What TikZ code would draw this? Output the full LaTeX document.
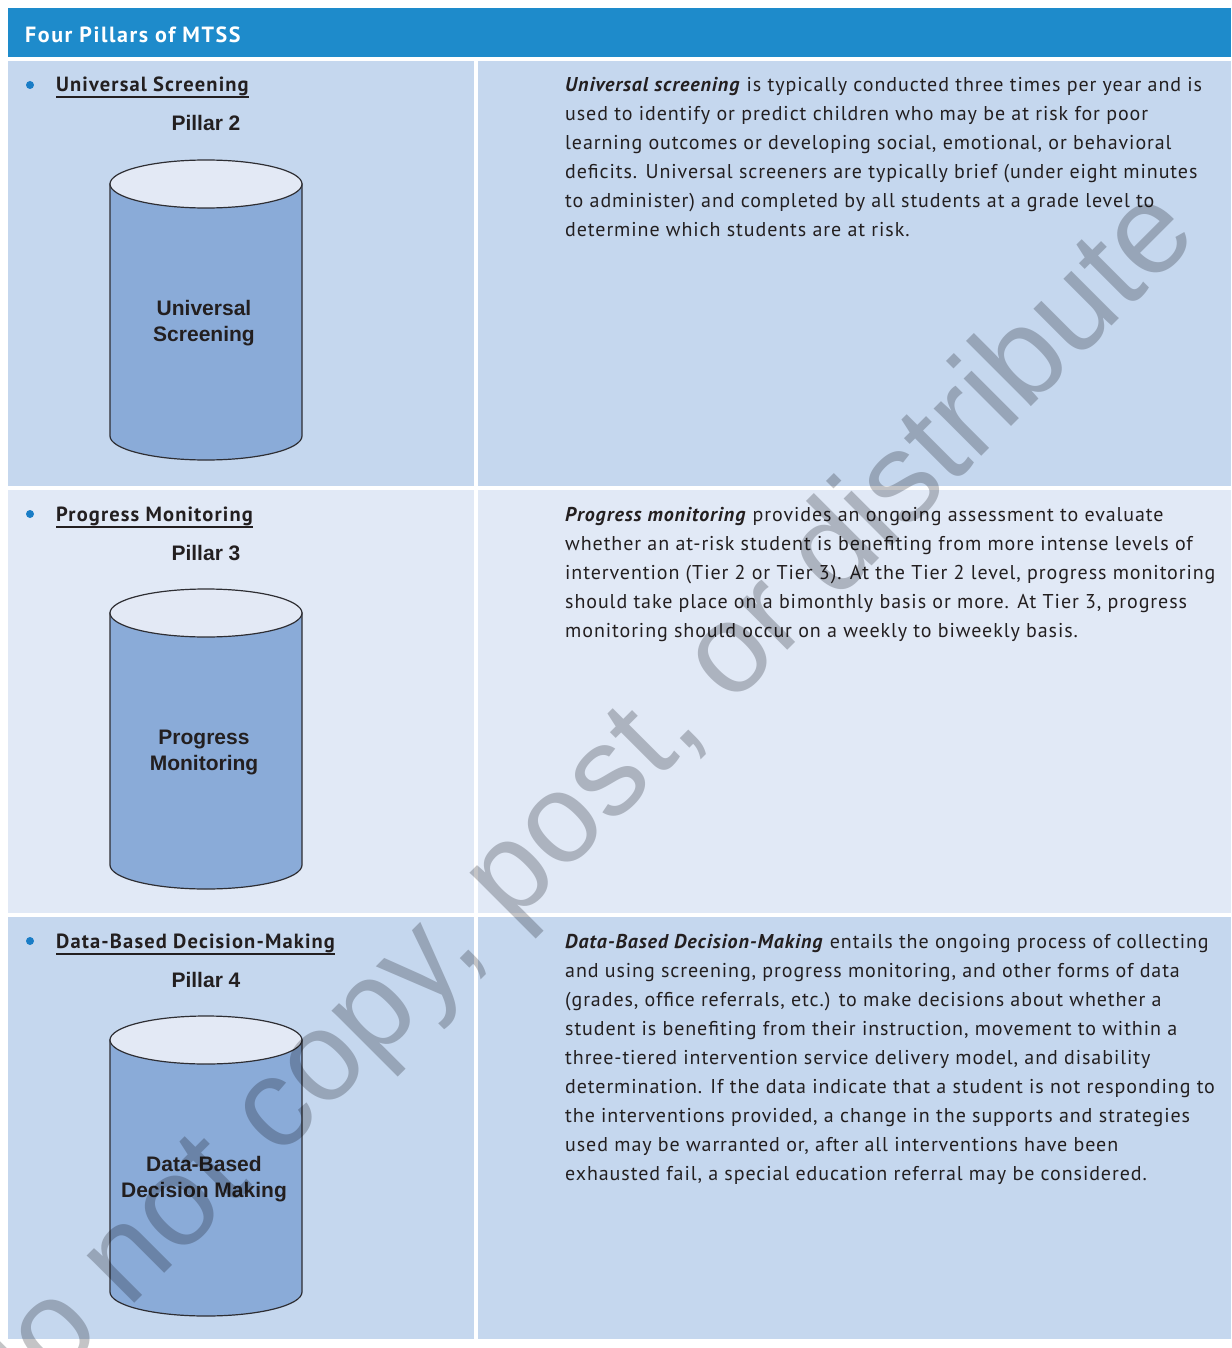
\documentclass[tikz,border=0pt]{standalone}
\usepackage{fontspec}
\setmainfont{PT Sans}[LetterSpace=4.6]
\newfontfamily\headfont{PT Sans}[LetterSpace=5.5]
\newfontfamily\titlefont{PT Sans}[LetterSpace=7]
\newfontfamily\labelfont{Liberation Sans}
\usetikzlibrary{calc}

\definecolor{titleblue}{HTML}{1E8BCB}
\definecolor{rowdark}{HTML}{C5D7EE}
\definecolor{rowlight}{HTML}{E1E9F6}
\definecolor{cylbody}{HTML}{8AABD8}
\definecolor{cyltop}{HTML}{E3E9F5}
\definecolor{cyledge}{HTML}{2E2E33}
\definecolor{bulletblue}{HTML}{1A7DC6}
\definecolor{inktext}{HTML}{231F20}
\definecolor{markgray}{RGB}{196,196,198}

\newcommand{\toptext}[2]{\parbox[t]{#1}{#2}}

\tikzset{
  titlebar/.style={fill=titleblue},
  darkcell/.style={fill=rowdark},
  lightcell/.style={fill=rowlight},
  cylside/.style={fill=cylbody, draw=cyledge, line width=1.2pt},
  cylcap/.style={fill=cyltop, draw=cyledge, line width=1.2pt},
  headtext/.style={anchor=base west, inner sep=0pt, text=inktext, font=\headfont\bfseries\fontsize{20.5}{24}\selectfont},
  pillartext/.style={anchor=base, inner sep=0pt, text=inktext, font=\labelfont\bfseries\fontsize{21}{26}\selectfont},
  cyltext/.style={anchor=base, inner sep=0pt, text=inktext, font=\labelfont\bfseries\fontsize{21}{26}\selectfont},
  bodytext/.style={anchor=base west, inner sep=0pt, text=inktext, font=\fontsize{20}{29}\selectfont},
  underlinestroke/.style={draw=inktext, line width=2pt},
  bulletdot/.style={fill=bulletblue},
}

\begin{document}
\begin{tikzpicture}[x=1pt, y=1pt]
\useasboundingbox (0,0) rectangle (1231,-1348);
\fill[white] (0,0) rectangle (1231,-1348);

% title bar
\fill[titlebar] (8,-8) rectangle (1231,-57);
\node[anchor=base west, inner sep=0pt, text=white, font=\titlefont\bfseries\fontsize{22}{24}\selectfont] (title) at (25,-43) {Four Pillars of MTSS};

% table cells
\fill[darkcell]  (8,-61)  rectangle (474,-486);
\fill[darkcell]  (478,-61) rectangle (1231,-486);
\fill[lightcell] (8,-490) rectangle (474,-913);
\fill[lightcell] (478,-490) rectangle (1231,-913);
\fill[darkcell]  (8,-917) rectangle (474,-1339);
\fill[darkcell]  (478,-917) rectangle (1231,-1339);

% one pillar: heading, pillar number, cylinder and its label
\foreach \dy/\head/\num/\lab/\id in {
    0/{Universal Screening}/2/{Universal\\Screening}/a,
    429/{Progress Monitoring}/3/{Progress\\Monitoring}/b,
    856/{Data-Based Decision-Making}/4/{Data-Based\\Decision Making}/c}{
  \begin{scope}[yshift=-\dy pt]
    \fill[bulletdot] (30,-85) circle (4);
    \node[headtext] (head-\id) at (56,-92) {\head};
    \draw[underlinestroke] ([yshift=-5.5pt]head-\id.base west) -- ([yshift=-5.5pt]head-\id.base east);
    \node[pillartext] (pillar-\id) at (206,-131) {Pillar \num};
    \path[cylside] (110,-184) -- (110,-436)
      arc[start angle=180, end angle=360, x radius=96, y radius=24]
      -- (302,-184) -- cycle;
    \draw[cylcap] (206,-184) ellipse [x radius=96, y radius=24];
    \node[cyltext] (cyl-\id) at (204,-315) {\toptext{220pt}{\centering\baselineskip=26pt \lab}};
  \end{scope}
}

% descriptions
\node[bodytext] (desc-a) at (565,-92) {\toptext{660pt}{\raggedright
\textbf{\textit{Universal screening}} is typically conducted three times per year and is\\
used to identify or predict children who may be at risk for poor\\
learning outcomes or developing social, emotional, or behavioral\\
deficits. Universal screeners are typically brief (under eight minutes\\
to administer) and completed by all students at a grade level to\\
determine which students are at risk.}};

\node[bodytext] (desc-b) at (565,-521) {\toptext{660pt}{\raggedright
\textbf{\textit{Progress monitoring}} provides an ongoing assessment to evaluate\\
whether an at-risk student is benefiting from more intense levels of\\
intervention (Tier 2 or Tier 3). At the Tier 2 level, progress monitoring\\
should take place on a bimonthly basis or more. At Tier 3, progress\\
monitoring should occur on a weekly to biweekly basis.}};

\node[bodytext] (desc-c) at (565,-948) {\toptext{660pt}{\raggedright
\textbf{\textit{Data-Based Decision-Making}} entails the ongoing process of collecting\\
and using screening, progress monitoring, and other forms of data\\
(grades, office referrals, etc.) to make decisions about whether a\\
student is benefiting from their instruction, movement to within a\\
three-tiered intervention service delivery model, and disability\\
determination. If the data indicate that a student is not responding to\\
the interventions provided, a change in the supports and strategies\\
used may be warranted or, after all interventions have been\\
exhausted fail, a special education referral may be considered.}};

% diagonal watermark
\begin{scope}[blend mode=multiply]
  \clip (0,0) rectangle (1231,-1348);
  \node[anchor=base west, inner sep=0pt, rotate=45, text=markgray,
        font=\labelfont\fontsize{127}{127}\selectfont] (mark) at (4,-1434)
        {do not copy, post, or distribute};
\end{scope}
\end{tikzpicture}
\end{document}
